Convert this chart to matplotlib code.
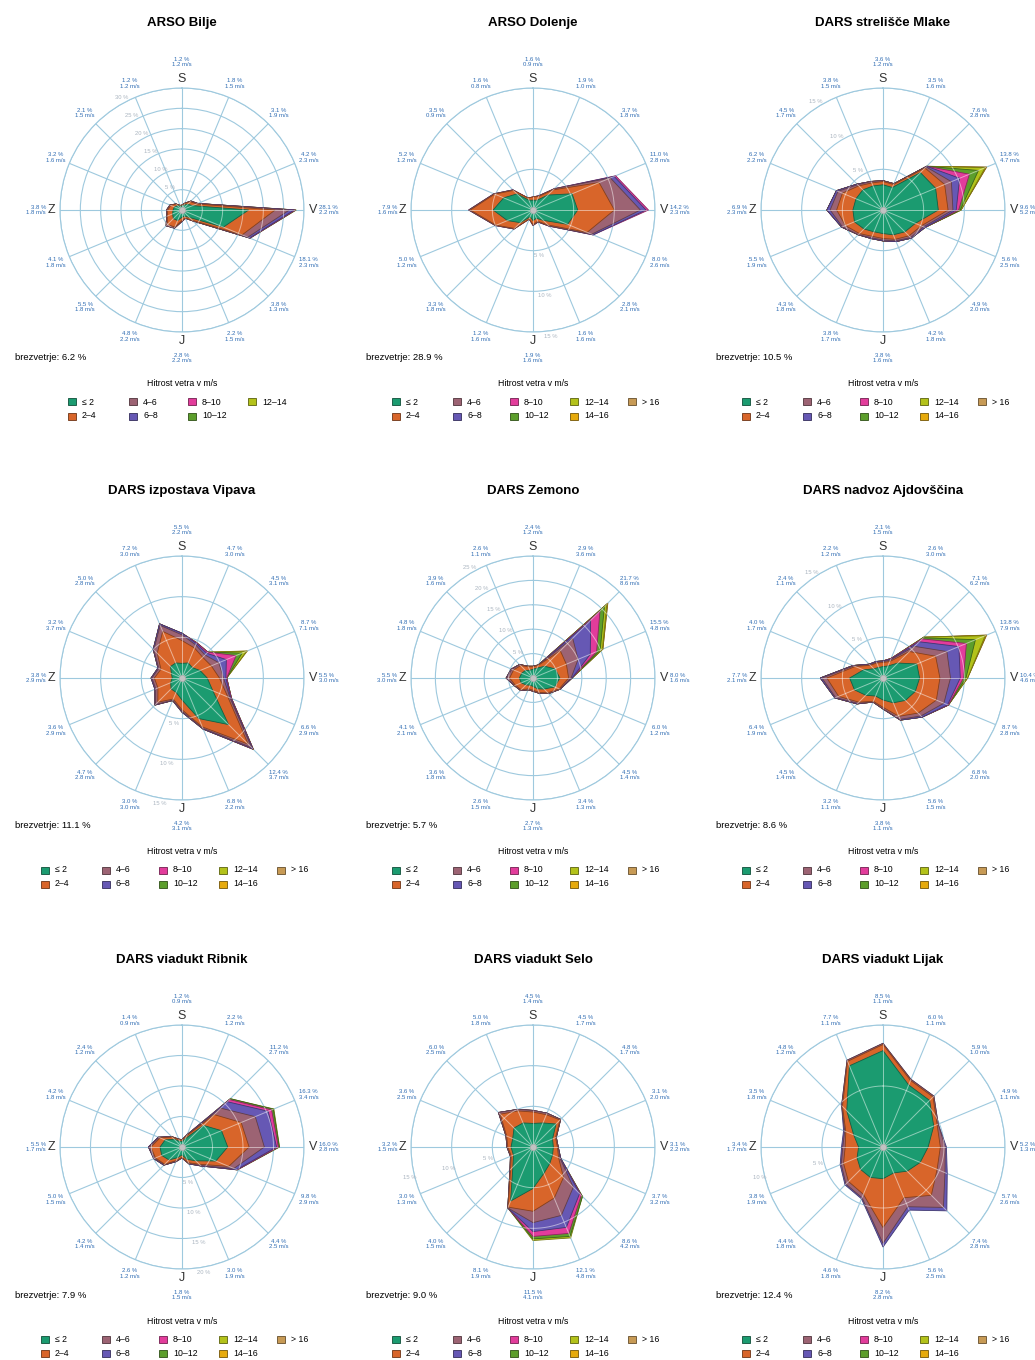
import numpy as np
import matplotlib
matplotlib.use('Agg')
import matplotlib.pyplot as plt
from matplotlib.patches import Rectangle
from matplotlib.colors import to_rgb

plt.rcParams['font.family'] = ['Liberation Sans', 'DejaVu Sans']

W, H = 1035, 1360   # velikost slike v pikslih
R_PX = 122          # polmer zunanjega kroga v pikslih

# smeri: S, SSV, SV, VSV, V, VJV, JV, JJV, J, JJZ, JZ, ZJZ, Z, ZSZ, SZ, SSZ
KOTI = np.deg2rad(np.arange(16) * 22.5)
RAZREDI = ['≤ 2', '2–4', '4–6', '6–8', '8–10', '10–12', '12–14', '14–16', '> 16']
BARVE = ['#1b9b70', '#d8652a', '#9c6373', '#6658b4', '#e23c9b',
         '#5c9e2c', '#b3c21a', '#e6aa0c', '#c79a55']

# pogostost (%) po razredih hitrosti, vsaka vrstica je en razred, 16 smeri
bilje_freq = [
    [1.0, 1.3, 2.0, 2.8, 16.4, 11.0, 2.6, 1.6, 1.8, 2.8, 3.0, 2.5, 2.2, 2.0, 1.5, 1.0],
    [0.2, 0.4, 0.9, 1.1, 6.5, 5.0, 1.0, 0.5, 0.8, 1.7, 2.1, 1.4, 1.3, 1.0, 0.5, 0.2],
    [0, 0.1, 0.2, 0.3, 3.5, 1.5, 0.2, 0.1, 0.2, 0.3, 0.4, 0.2, 0.3, 0.2, 0.1, 0],
    [0, 0, 0, 0, 1.2, 0.5, 0, 0, 0, 0, 0, 0, 0, 0, 0, 0],
    [0, 0, 0, 0, 0.3, 0.1, 0, 0, 0, 0, 0, 0, 0, 0, 0, 0],
    [0, 0, 0, 0, 0.1, 0, 0, 0, 0, 0, 0, 0, 0, 0, 0, 0],
    [0, 0, 0, 0, 0.1, 0, 0, 0, 0, 0, 0, 0, 0, 0, 0, 0],
]
bilje_ms = [1.2, 1.5, 1.9, 2.3, 2.2, 2.3, 1.3, 1.5, 2.2, 2.2, 1.8, 1.8, 1.8, 1.6, 1.5, 1.2]

dolenje_freq = [
    [1.2, 1.3, 2.6, 5.2, 5.5, 4.6, 1.8, 1.1, 1.3, 0.9, 2.2, 3.4, 4.9, 3.9, 2.8, 1.3],
    [0.4, 0.5, 0.9, 3.6, 4.5, 2.6, 0.8, 0.4, 0.5, 0.3, 1.0, 1.5, 2.8, 1.2, 0.6, 0.3],
    [0, 0.1, 0.2, 1.5, 3.2, 0.6, 0.2, 0.1, 0.1, 0, 0.1, 0.1, 0.2, 0.1, 0.1, 0],
    [0, 0, 0, 0.5, 0.7, 0.2, 0, 0, 0, 0, 0, 0, 0, 0, 0, 0],
    [0, 0, 0, 0.2, 0.3, 0, 0, 0, 0, 0, 0, 0, 0, 0, 0, 0],
]
dolenje_ms = [0.9, 1.0, 1.8, 2.8, 2.3, 2.6, 2.1, 1.6, 1.6, 1.6, 1.8, 1.2, 1.6, 1.2, 0.9, 0.8]

mlake_freq = [
    [3.1, 3.0, 6.5, 7.0, 6.8, 4.3, 3.8, 3.3, 2.9, 2.9, 3.3, 3.8, 3.7, 3.6, 3.5, 3.2],
    [0.4, 0.4, 0.8, 1.2, 1.2, 0.8, 0.7, 0.6, 0.6, 0.6, 0.8, 1.2, 2.0, 1.8, 0.7, 0.4],
    [0.1, 0.1, 0.2, 0.9, 0.6, 0.3, 0.3, 0.2, 0.2, 0.2, 0.2, 0.4, 0.8, 0.6, 0.2, 0.2],
    [0, 0, 0.1, 1.1, 0.4, 0.2, 0.1, 0.1, 0.1, 0.1, 0, 0.1, 0.4, 0.2, 0.1, 0],
    [0, 0, 0, 1.3, 0.3, 0, 0, 0, 0, 0, 0, 0, 0, 0, 0, 0],
    [0, 0, 0, 1.2, 0.2, 0, 0, 0, 0, 0, 0, 0, 0, 0, 0, 0],
    [0, 0, 0, 0.9, 0.1, 0, 0, 0, 0, 0, 0, 0, 0, 0, 0, 0],
    [0, 0, 0, 0.15, 0, 0, 0, 0, 0, 0, 0, 0, 0, 0, 0, 0],
    [0, 0, 0, 0.05, 0, 0, 0, 0, 0, 0, 0, 0, 0, 0, 0, 0],
]
mlake_ms = [1.2, 1.6, 2.8, 4.7, 5.2, 2.5, 2.0, 1.8, 1.6, 1.7, 1.8, 1.9, 2.3, 2.2, 1.7, 1.5]

vipava_freq = [
    [1.8, 2.0, 1.8, 2.4, 3.1, 4.1, 8.1, 5.4, 2.7, 1.9, 1.9, 1.5, 1.2, 1.4, 2.0, 2.0],
    [2.8, 2.0, 1.8, 1.5, 1.5, 2.0, 3.4, 1.1, 1.2, 0.9, 2.3, 1.7, 2.2, 1.4, 2.3, 4.2],
    [0.7, 0.4, 0.4, 1.0, 0.5, 0.3, 0.6, 0.2, 0.2, 0.15, 0.4, 0.3, 0.3, 0.3, 0.6, 0.8],
    [0.2, 0.2, 0.3, 1.0, 0.3, 0.1, 0.2, 0.1, 0.1, 0.05, 0.1, 0.1, 0.1, 0.1, 0.1, 0.2],
    [0, 0.1, 0.2, 1.3, 0.1, 0.1, 0.1, 0, 0, 0, 0, 0, 0, 0, 0, 0],
    [0, 0, 0, 0.8, 0, 0, 0, 0, 0, 0, 0, 0, 0, 0, 0, 0],
    [0, 0, 0, 0.6, 0, 0, 0, 0, 0, 0, 0, 0, 0, 0, 0, 0],
    [0, 0, 0, 0.1, 0, 0, 0, 0, 0, 0, 0, 0, 0, 0, 0, 0],
]
vipava_ms = [2.2, 3.0, 3.1, 7.1, 3.0, 2.9, 3.7, 2.2, 3.1, 3.0, 2.8, 2.9, 2.9, 3.7, 2.8, 3.0]

zemono_freq = [
    [1.8, 2.2, 3.4, 4.9, 5.5, 4.8, 3.2, 2.4, 1.7, 1.6, 2.0, 2.6, 2.8, 2.5, 2.2, 1.7],
    [0.5, 0.6, 4.5, 2.5, 1.8, 1.0, 1.1, 0.8, 0.8, 0.8, 1.4, 1.3, 2.0, 1.8, 1.4, 0.8],
    [0.1, 0.1, 3.6, 2.6, 0.5, 0.2, 0.2, 0.2, 0.2, 0.2, 0.2, 0.2, 0.6, 0.4, 0.3, 0.1],
    [0, 0, 5.2, 2.7, 0.2, 0, 0, 0, 0, 0, 0, 0, 0.1, 0.1, 0, 0],
    [0, 0, 2.7, 1.4, 0, 0, 0, 0, 0, 0, 0, 0, 0, 0, 0, 0],
    [0, 0, 1.3, 0.8, 0, 0, 0, 0, 0, 0, 0, 0, 0, 0, 0, 0],
    [0, 0, 0.7, 0.5, 0, 0, 0, 0, 0, 0, 0, 0, 0, 0, 0, 0],
    [0, 0, 0.2, 0.1, 0, 0, 0, 0, 0, 0, 0, 0, 0, 0, 0, 0],
    [0, 0, 0.1, 0, 0, 0, 0, 0, 0, 0, 0, 0, 0, 0, 0, 0],
]
zemono_ms = [1.2, 3.6, 8.6, 4.8, 1.6, 1.2, 1.4, 1.3, 1.3, 1.5, 1.8, 2.1, 3.0, 1.8, 1.6, 1.1]

ajdovscina_freq = [
    [1.4, 1.6, 2.6, 4.5, 4.5, 4.3, 3.9, 3.3, 2.7, 2.4, 3.0, 3.8, 4.1, 2.6, 1.6, 1.4],
    [0.5, 0.6, 2.0, 2.5, 2.5, 2.8, 2.2, 1.8, 0.9, 0.7, 1.2, 2.1, 2.8, 1.1, 0.6, 0.6],
    [0.1, 0.2, 0.9, 1.5, 1.3, 1.0, 0.5, 0.4, 0.2, 0.1, 0.2, 0.4, 0.6, 0.2, 0.1, 0.1],
    [0.1, 0.1, 0.8, 1.6, 1.2, 0.5, 0.2, 0.1, 0, 0, 0.1, 0.1, 0.2, 0.1, 0.1, 0.1],
    [0, 0.1, 0.5, 1.0, 0.4, 0.1, 0, 0, 0, 0, 0, 0, 0, 0, 0, 0],
    [0, 0, 0.2, 1.2, 0.3, 0, 0, 0, 0, 0, 0, 0, 0, 0, 0, 0],
    [0, 0, 0.1, 1.3, 0.2, 0, 0, 0, 0, 0, 0, 0, 0, 0, 0, 0],
    [0, 0, 0, 0.15, 0, 0, 0, 0, 0, 0, 0, 0, 0, 0, 0, 0],
    [0, 0, 0, 0.05, 0, 0, 0, 0, 0, 0, 0, 0, 0, 0, 0, 0],
]
ajdovscina_ms = [1.5, 3.0, 6.2, 7.9, 4.6, 2.8, 2.0, 1.5, 1.1, 1.1, 1.4, 1.9, 2.1, 1.7, 1.1, 1.2]

ribnik_freq = [
    [0.9, 1.5, 5.0, 7.0, 7.5, 6.0, 3.2, 2.2, 1.3, 1.9, 3.0, 3.6, 3.6, 3.0, 1.8, 1.0],
    [0.2, 0.5, 2.5, 3.5, 3.5, 2.3, 0.8, 0.6, 0.4, 0.5, 1.0, 1.1, 1.5, 0.9, 0.5, 0.3],
    [0.1, 0.1, 1.5, 2.5, 2.5, 0.9, 0.3, 0.1, 0.1, 0.1, 0.1, 0.2, 0.3, 0.2, 0.1, 0.1],
    [0, 0.1, 1.5, 2.3, 2.0, 0.5, 0.1, 0.1, 0, 0.1, 0.1, 0.1, 0.1, 0.1, 0, 0],
    [0, 0, 0.5, 0.6, 0.3, 0.1, 0, 0, 0, 0, 0, 0, 0, 0, 0, 0],
    [0, 0, 0.2, 0.3, 0.15, 0, 0, 0, 0, 0, 0, 0, 0, 0, 0, 0],
    [0, 0, 0, 0.1, 0.05, 0, 0, 0, 0, 0, 0, 0, 0, 0, 0, 0],
]
ribnik_ms = [0.9, 1.2, 2.7, 3.4, 2.8, 2.9, 2.5, 1.9, 1.5, 1.2, 1.4, 1.5, 1.7, 1.8, 1.2, 0.9]

selo_freq = [
    [2.9, 3.2, 4.0, 2.6, 2.5, 2.6, 2.9, 3.5, 5.1, 7.2, 3.5, 2.6, 2.7, 2.7, 3.3, 3.2],
    [1.4, 1.1, 0.7, 0.4, 0.5, 0.8, 2.4, 3.3, 2.8, 0.8, 0.4, 0.3, 0.4, 0.8, 2.4, 1.6],
    [0.2, 0.2, 0.1, 0.1, 0.1, 0.2, 1.7, 2.3, 1.4, 0.1, 0.1, 0.1, 0.1, 0.1, 0.3, 0.2],
    [0, 0, 0, 0, 0, 0.1, 1.1, 1.6, 1.1, 0, 0, 0, 0, 0, 0, 0],
    [0, 0, 0, 0, 0, 0, 0.3, 0.8, 0.6, 0, 0, 0, 0, 0, 0, 0],
    [0, 0, 0, 0, 0, 0, 0.2, 0.4, 0.3, 0, 0, 0, 0, 0, 0, 0],
    [0, 0, 0, 0, 0, 0, 0, 0.2, 0.2, 0, 0, 0, 0, 0, 0, 0],
]
selo_ms = [1.4, 1.7, 1.7, 2.0, 2.2, 3.2, 4.2, 4.8, 4.1, 1.9, 1.5, 1.3, 1.5, 2.5, 2.5, 1.8]

lijak_freq = [
    [7.9, 5.5, 5.4, 4.5, 3.7, 3.3, 2.8, 2.3, 2.6, 2.7, 2.6, 2.3, 2.0, 2.6, 4.2, 7.2],
    [0.5, 0.4, 0.4, 0.3, 1.0, 1.5, 2.8, 2.2, 4.0, 1.5, 1.4, 1.2, 1.1, 0.7, 0.5, 0.4],
    [0.1, 0.1, 0.1, 0.1, 0.4, 0.7, 1.4, 0.8, 1.3, 0.3, 0.3, 0.2, 0.2, 0.1, 0.1, 0.1],
    [0, 0, 0, 0, 0.1, 0.2, 0.4, 0.3, 0.3, 0.1, 0.1, 0.1, 0.1, 0.1, 0, 0],
]
lijak_ms = [1.1, 1.1, 1.0, 1.1, 1.3, 2.6, 2.8, 2.5, 2.8, 1.8, 1.8, 1.9, 1.7, 1.8, 1.2, 1.1]

# ime, podatki, hitrosti, brezvetrje, zunanji krog, krogi, smer oznak krogov, razredov v legendi
postaje = [
    ('ARSO Bilje', bilje_freq, bilje_ms, 6.2, 30, [5, 10, 15, 20, 25, 30], 332, 7),
    ('ARSO Dolenje', dolenje_freq, dolenje_ms, 28.9, 15, [5, 10, 15], 172, 9),
    ('DARS strelišče Mlake', mlake_freq, mlake_ms, 10.5, 15, [5, 10, 15], 328, 9),
    ('DARS izpostava Vipava', vipava_freq, vipava_ms, 11.1, 15, [5, 10, 15], 190, 9),
    ('DARS Zemono', zemono_freq, zemono_ms, 5.7, 25, [5, 10, 15, 20, 25], 330, 9),
    ('DARS nadvoz Ajdovščina', ajdovscina_freq, ajdovscina_ms, 8.6, 15, [5, 10, 15], 326, 9),
    ('DARS viadukt Ribnik', ribnik_freq, ribnik_ms, 7.9, 20, [5, 10, 15, 20], 170, 9),
    ('DARS viadukt Selo', selo_freq, selo_ms, 9.0, 15, [5, 10, 15], 256, 9),
    ('DARS viadukt Lijak', lijak_freq, lijak_ms, 12.4, 10, [5, 10], 256, 9),
]

SREDISCA_X = [182, 533, 883]
SREDISCA_Y = [210, 678, 1147]
MREZA = '#9ec9de'
MODRA = '#2f6cb3'


def temnejsa(c, f=0.62):
    r, g, b = to_rgb(c)
    return (r * f, g * f, b * f)


def fx(x):
    return x / W


def fy(y):
    return 1 - y / H


def narisi_roza(fig, cx, cy, ime, freq, ms, calm, rmax, krogi, kot_oznak, n_leg):
    ax = fig.add_axes([fx(cx - R_PX), fy(cy + R_PX), 2 * R_PX / W, 2 * R_PX / H],
                      projection='polar')
    ax.set_theta_zero_location('N')
    ax.set_theta_direction(-1)
    ax.set_ylim(0, rmax)
    ax.set_thetagrids(np.arange(16) * 22.5, labels=[''] * 16)
    ax.set_rgrids(krogi, labels=[''] * len(krogi))
    ax.grid(True, color=MREZA, lw=0.8)
    ax.spines['polar'].set_color(MREZA)
    ax.spines['polar'].set_linewidth(0.8)
    ax.set_axisbelow(True)
    ax.patch.set_alpha(0)

    freq = np.array(freq, dtype=float)
    kum = np.cumsum(freq, axis=0)
    th = np.append(KOTI, KOTI[0])

    # od najhitrejšega razreda navznoter
    zunanji = None
    for k in range(len(freq) - 1, -1, -1):
        r = np.append(kum[k], kum[k][0])
        p = ax.fill(th, r, facecolor=BARVE[k], edgecolor=temnejsa(BARVE[k]),
                    lw=0.6, zorder=3 + (len(freq) - k))
        if zunanji is None:
            zunanji = p[0]

    # svetle črte mreže čez ploskve
    for t in KOTI:
        ln, = ax.plot([t, t], [0, rmax], color='white', lw=0.7, alpha=0.5, zorder=30)
        ln.set_clip_path(zunanji)
    tt = np.linspace(0, 2 * np.pi, 240)
    for rk in krogi:
        ln, = ax.plot(tt, np.full_like(tt, rk), color='white', lw=0.7, alpha=0.5, zorder=30)
        ln.set_clip_path(zunanji)
    ax.plot([0], [0], 'o', ms=4.5, color='#c2c2c2', mec='#a8a8a8', mew=0.5, zorder=35)

    # oznake krogov
    for rk in krogi:
        ax.text(np.deg2rad(kot_oznak), rk + 0.045 * rmax, f'{rk} %', fontsize=4.2,
                color='#aab5c0', ha='center', va='center', zorder=36, clip_on=False)

    # oznake smeri
    skupaj = freq.sum(axis=0)
    d = rmax / R_PX
    crke = {0: 'S', 4: 'V', 8: 'J', 12: 'Z'}
    for i, t in enumerate(KOTI):
        txt = f'{skupaj[i]:.1f} %\n{ms[i]:.1f} m/s'
        kw = dict(fontsize=4.3, color=MODRA, linespacing=1.15, clip_on=False)
        if i in crke:
            ax.text(t, 131 * d, crke[i], fontsize=9, color='#333333',
                    ha='center', va='center', clip_on=False)
            if i == 0:
                ax.text(t, 148 * d, txt, ha='center', va='center', **kw)
            elif i == 8:
                ax.text(t, 148 * d, txt, ha='center', va='center', **kw)
            elif i == 4:
                ax.text(t, 137 * d, txt, ha='left', va='center', **kw)
            else:
                ax.text(t, 136 * d, txt, ha='right', va='center', **kw)
        else:
            ax.text(t, 137 * d, txt, ha='center', va='center', **kw)

    fig.text(fx(cx), fy(cy - 187), ime, fontsize=9.5, fontweight='bold',
             ha='center', va='center')
    fig.text(fx(cx - 167), fy(cy + 148), f'brezvetrje: {calm:.1f} %', fontsize=6.8,
             ha='left', va='center')

    # legenda
    fig.text(fx(cx), fy(cy + 174), 'Hitrost vetra v m/s', fontsize=6.3,
             ha='center', va='center')
    stolpci = [-137, -76, -19, 41, 99] if n_leg == 9 else [-110, -49, 10, 70]
    for k in range(n_leg):
        sx = cx + stolpci[k // 2]
        sy = cy + (192 if k % 2 == 0 else 206)
        fig.add_artist(Rectangle((fx(sx - 4), fy(sy + 3.5)), 8 / W, 7 / H,
                                 facecolor=BARVE[k], edgecolor=temnejsa(BARVE[k], 0.5),
                                 lw=0.6, transform=fig.transFigure))
        fig.text(fx(sx + 10), fy(sy), RAZREDI[k], fontsize=6.3, ha='left', va='center')


fig = plt.figure(figsize=(W / 100, H / 100), dpi=100)
for n, (ime, freq, ms, calm, rmax, krogi, kot, n_leg) in enumerate(postaje):
    cx = SREDISCA_X[n % 3]
    cy = SREDISCA_Y[n // 3]
    narisi_roza(fig, cx, cy, ime, freq, ms, calm, rmax, krogi, kot, n_leg)

fig.savefig('out.png', dpi=100, facecolor='white')
